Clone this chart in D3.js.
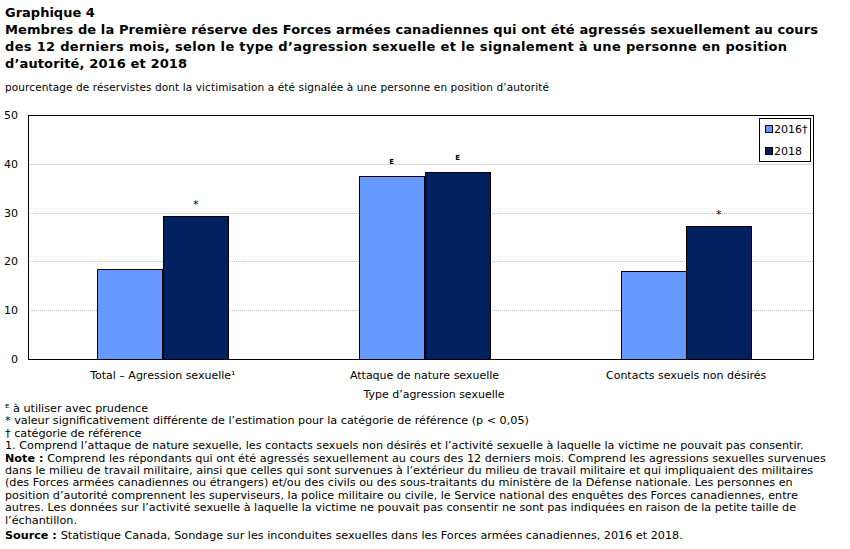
<!DOCTYPE html>
<html>
<head>
<meta charset="utf-8">
<script src="https://cdn.jsdelivr.net/npm/d3@7"></script>
<style>
  body { margin: 0; background: #fff; }
  svg { font-family: "DejaVu Sans", Verdana, sans-serif; }
</style>
</head>
<body>
<svg id="chart" width="850" height="549"></svg>
<script>
const categories = ["Total – Agression sexuelle¹", "Attaque de nature sexuelle", "Contacts sexuels non désirés"];
const years = ["2016", "2018"];
const legendLabels = ["2016†", "2018"];
const values2016 = [18.4, 37.6, 18.0];
const values2018 = [29.4, 38.4, 27.2];
const flags2016 = ["", "E", ""];
const flags2018 = ["*", "E", "*"];
const yTicks = [0, 10, 20, 30, 40, 50];
const colors = ["#6699ff", "#002060"];

const titleLines = [
  {t: "Graphique 4", w: null},
  {t: "Membres de la Première réserve des Forces armées canadiennes qui ont été agressés sexuellement au cours", w: 813},
  {t: "des 12 derniers mois, selon le type d’agression sexuelle et le signalement à une personne en position", w: 782},
  {t: "d’autorité, 2016 et 2018", w: 182}
];
const subtitle = "pourcentage de réservistes dont la victimisation a été signalée à une personne en position d’autorité";
const xTitle = "Type d’agression sexuelle";
const notes = [
  {t: "ᴱ à utiliser avec prudence"},
  {t: "* valeur significativement différente de l’estimation pour la catégorie de référence (p < 0,05)"},
  {t: "† catégorie de référence"},
  {t: "1. Comprend l’attaque de nature sexuelle, les contacts sexuels non désirés et l’activité sexuelle à laquelle la victime ne pouvait pas consentir."},
  {b: "Note : ", t: "Comprend les répondants qui ont été agressés sexuellement au cours des 12 derniers mois. Comprend les agressions sexuelles survenues"},
  {t: "dans le milieu de travail militaire, ainsi que celles qui sont survenues à l’extérieur du milieu de travail militaire et qui impliquaient des militaires"},
  {t: "(des Forces armées canadiennes ou étrangers) et/ou des civils ou des sous-traitants du ministère de la Défense nationale. Les personnes en"},
  {t: "position d’autorité comprennent les superviseurs, la police militaire ou civile, le Service national des enquêtes des Forces canadiennes, entre"},
  {t: "autres. Les données sur l’activité sexuelle à laquelle la victime ne pouvait pas consentir ne sont pas indiquées en raison de la petite taille de"},
  {t: "l’échantillon."},
  {b: "Source : ", t: "Statistique Canada, Sondage sur les inconduites sexuelles dans les Forces armées canadiennes, 2016 et 2018."}
];

const svg = d3.select("#chart");
const margin = {left: 28, right: 37, top: 115, bottom: 190};
const width = 850, height = 549;
const plotW = width - margin.left - margin.right;
const plotH = height - margin.top - margin.bottom;

// title
titleLines.forEach((line, i) => {
  const t = svg.append("text")
    .attr("x", 5).attr("y", 17 + i * 17)
    .attr("font-size", 13).attr("font-weight", "bold")
    .attr("fill", "#000")
    .text(line.t);
  if (line.w) t.attr("textLength", line.w).attr("lengthAdjust", "spacing");
});
svg.append("text")
  .attr("x", 5).attr("y", 91)
  .attr("font-size", 10.5)
  .attr("textLength", 544).attr("lengthAdjust", "spacing")
  .text(subtitle);

const g = svg.append("g").attr("transform", `translate(${margin.left},${margin.top})`);

const x = d3.scaleBand().domain(categories).range([0, plotW]).paddingInner(0).paddingOuter(0);
const x1 = d3.scaleBand().domain(years).range([0, x.bandwidth()]).paddingInner(0).paddingOuter(1);
const y = d3.scaleLinear().domain([0, 50]).range([plotH, 0]);
const shift = 4;

// grid
g.selectAll(".grid").data(yTicks.filter(d => d > 0 && d < 50)).join("line")
  .attr("x1", 0).attr("x2", plotW)
  .attr("y1", d => Math.round(y(d)) + 0.5).attr("y2", d => Math.round(y(d)) + 0.5)
  .attr("stroke", d => d === 40 ? "#d9d9d9" : "#bdbdbd")
  .attr("stroke-dasharray", d => d === 40 ? null : "1,1")
  .attr("stroke-width", 1);

// y axis labels
const yAxis = d3.axisLeft(y).tickValues(yTicks).tickSize(0).tickPadding(10);
g.append("g").call(yAxis)
  .call(a => a.select(".domain").remove())
  .selectAll("text").attr("font-size", 11).attr("font-family", "DejaVu Sans, Verdana, sans-serif").attr("fill", "#000");

// bars
const series = [values2016, values2018];
const flags = [flags2016, flags2018];
categories.forEach((c, ci) => {
  years.forEach((yr, si) => {
    const v = series[si][ci];
    const bx = Math.round(x(c) + x1(yr) + shift);
    g.append("rect")
      .attr("x", bx + 0.5).attr("y", Math.round(y(v)) + 0.5)
      .attr("width", Math.round(x1.bandwidth())).attr("height", plotH - Math.round(y(v)))
      .attr("fill", colors[si]).attr("stroke", "#000").attr("stroke-width", 1);
    const f = flags[si][ci];
    if (f) {
      g.append("text")
        .attr("x", bx + x1.bandwidth() / 2)
        .attr("y", y(v) - (f === "E" ? 12 : 8))
        .attr("text-anchor", "middle")
        .attr("font-size", f === "E" ? 7 : 11)
        .attr("font-weight", f === "E" ? "bold" : null)
        .text(f);
    }
  });
});

// plot frame
g.append("rect").attr("x", 0.5).attr("y", 0.5).attr("width", plotW).attr("height", plotH)
  .attr("fill", "none").attr("stroke", "#000").attr("stroke-width", 1);

// x axis labels
g.selectAll(".xlab").data(categories).join("text")
  .attr("x", d => x(d) + x.bandwidth() / 2 + shift)
  .attr("y", plotH + 20)
  .attr("text-anchor", "middle")
  .attr("font-size", 11)
  .text(d => d);
svg.append("text")
  .attr("x", 434).attr("y", 398)
  .attr("text-anchor", "middle").attr("font-size", 11)
  .text(xTitle);

// legend
const lg = svg.append("g").attr("transform", "translate(759,118)");
lg.append("rect").attr("x", 0.5).attr("y", 0.5).attr("width", 51).attr("height", 43)
  .attr("fill", "#fff").attr("stroke", "#000");
legendLabels.forEach((l, i) => {
  lg.append("rect").attr("x", 6.5).attr("y", 7.5 + i * 22).attr("width", 7).attr("height", 7)
    .attr("fill", colors[i]).attr("stroke", "#000");
  lg.append("text").attr("x", 15).attr("y", 15 + i * 22).attr("font-size", 11).text(l);
});

// notes
notes.forEach((n, i) => {
  const t = svg.append("text")
    .attr("x", 5).attr("y", 412 + i * 12.4 + (i === 10 ? 3 : 0))
    .attr("font-size", 11.2);
  if (n.b) t.append("tspan").attr("font-weight", "bold").text(n.b);
  t.append("tspan").text(n.t);
});
</script>
</body>
</html>
